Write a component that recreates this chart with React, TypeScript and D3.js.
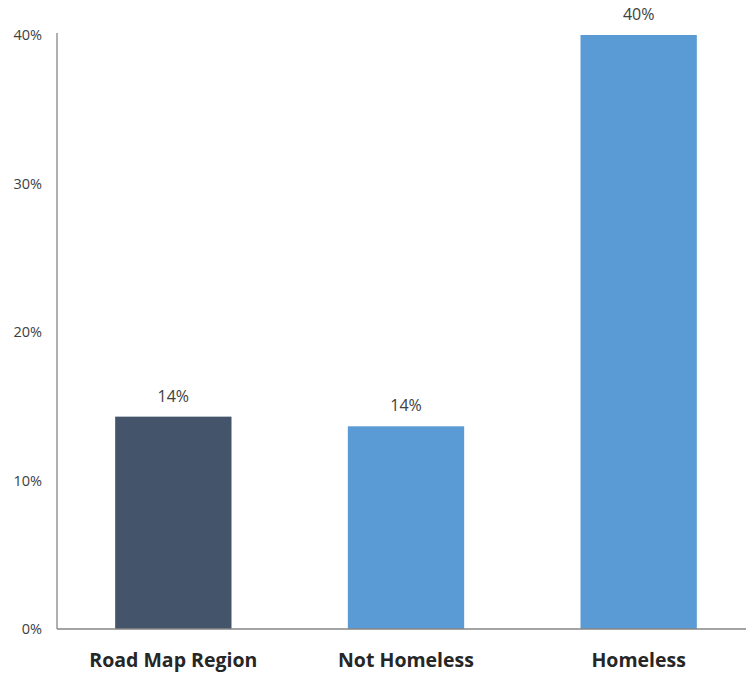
import React from "react";
import * as d3 from "d3";

const categories = ["Road Map Region", "Not Homeless", "Homeless"];
const values = [14.3, 13.65, 40];
const valueLabels = ["14%", "14%", "40%"];
const barColors = ["#44546A", "#5B9BD5", "#5B9BD5"];
const yTicks = [0, 10, 20, 30, 40];

const W = 746;
const H = 675;
const left = 57;
const top = 35;
const bottom = 629;

export default function App() {
  const x = d3
    .scaleBand<string>()
    .domain(categories)
    .range([left, 755])
    .paddingInner(0.5)
    .paddingOuter(0.25);
  const y = d3.scaleLinear().domain([0, 40]).range([bottom, top]);
  const font = "'Open Sans', Lato, sans-serif";
  return (
    <svg
      width={W}
      height={H}
      style={{ position: "absolute", left: 0, top: 0, background: "#fff" }}
      fontFamily={font}
    >
      {categories.map((c, i) => (
        <rect
          key={c}
          x={x(c)}
          y={y(values[i])}
          width={x.bandwidth()}
          height={bottom - y(values[i])}
          fill={barColors[i]}
        />
      ))}
      <line x1={left} x2={left} y1={top - 2} y2={bottom} stroke="#868686" strokeWidth={1.3} />
      <line x1={left} x2={W} y1={bottom} y2={bottom} stroke="#868686" strokeWidth={1.3} />
      {yTicks.map((t) => (
        <text
          key={t}
          x={42}
          y={y(t)}
          dy="0.35em"
          textAnchor="end"
          fontSize={14.5}
          fill="#404040"
        >
          {t}%
        </text>
      ))}
      {categories.map((c, i) => (
        <text
          key={"v" + c}
          x={(x(c) as number) + x.bandwidth() / 2}
          y={y(values[i]) - 15}
          textAnchor="middle"
          fontSize={16}
          fill="#404040"
        >
          {valueLabels[i]}
        </text>
      ))}
      {categories.map((c) => (
        <text
          key={"c" + c}
          x={(x(c) as number) + x.bandwidth() / 2}
          y={667}
          textAnchor="middle"
          fontSize={19.5}
          fontWeight="bold"
          fill="#262626"
        >
          {c}
        </text>
      ))}
    </svg>
  );
}
